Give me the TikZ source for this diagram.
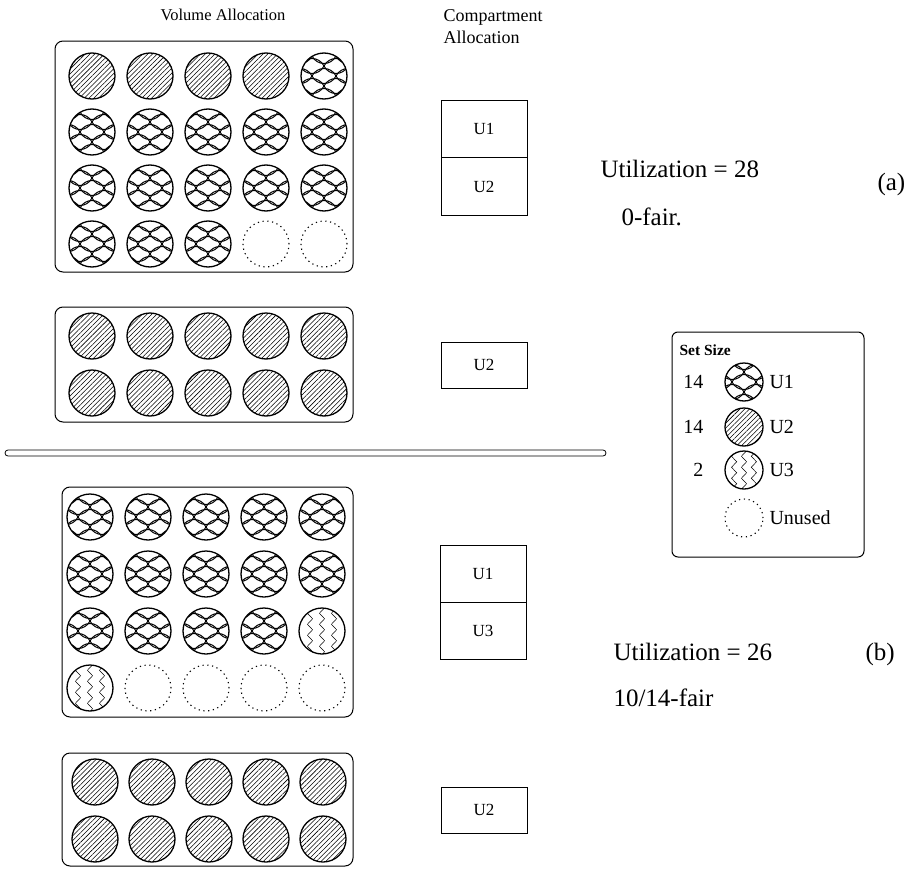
\documentclass[tikz,border=0pt]{standalone}
\usepackage{fontspec}
\setmainfont{Liberation Serif}
\usetikzlibrary{positioning,patterns.meta,decorations.pathmorphing}

\tikzset{
  disc/.style={line width=1.3pt},
  scaleline/.style={line width=1pt},
  waveline/.style={line width=0.5pt, decorate,
    decoration={zigzag, amplitude=2.6pt, segment length=11pt}},
  tray/.style={line width=1pt, rounded corners=8pt},
  cell/.style={draw, line width=1pt, minimum width=86pt, outer sep=0pt,
    font=\fontsize{17}{20}\selectfont},
}

% fish scale disc: centre x, centre y, radius
\newcommand\discF[3]{%
  \pgfmathsetmacro\dcx{#1}\pgfmathsetmacro\dcy{#2}%
  \begin{scope}
    \clip (\dcx,\dcy) circle[radius=#3pt];
    \foreach \sb in {-3,...,3}
      \foreach \sa in {-2,...,2} {
        \pgfmathsetmacro\sx{\dcx-12+\sa*24+mod(\sb+4,2)*12}
        \pgfmathsetmacro\sy{\dcy+\sb*10}
        \draw[scaleline] (\sx,\sy) .. controls (\sx+5,\sy-10) and (\sx+19,\sy-10) .. (\sx+24,\sy)
                                   .. controls (\sx+19,\sy+10) and (\sx+5,\sy+10) .. cycle;
      }
  \end{scope}
  \draw[disc] (\dcx,\dcy) circle[radius=#3pt];}
% hatched disc
\newcommand\discH[3]{%
  \draw[disc, pattern={Lines[angle=45, distance=3.4pt, line width=0.55pt]}]
    (#1,#2) circle[radius=#3pt];}
% wavy disc
\newcommand\discW[3]{%
  \pgfmathsetmacro\dcx{#1}\pgfmathsetmacro\dcy{#2}%
  \begin{scope}
    \clip (\dcx,\dcy) circle[radius=#3pt];
    \foreach \so in {-12,0,12}
      \draw[waveline] ({\dcx+\so*#3/23},{\dcy-#3-3}) -- ({\dcx+\so*#3/23},{\dcy+#3+3});
  \end{scope}
  \draw[disc] (\dcx,\dcy) circle[radius=#3pt];}
% unused disc
\newcommand\discE[3]{%
  \draw[line width=1.1pt, dash pattern=on 1.2pt off 3.6pt] (#1,#2) circle[radius=#3pt];}
\newcommand\drawdisc[4]{\csname disc#1\endcsname{#2}{#3}{#4}}

\begin{document}
\begin{tikzpicture}[x=1pt, y=-1pt]
\useasboundingbox (0,0) rectangle (906,870);

\def\big{\fontsize{25}{30}\selectfont}
\def\head{\fontsize{16.5}{21.5}\selectfont}
\def\key{\fontsize{20}{24}\selectfont}

\node[anchor=base, font=\head] (volhead) at (223,20) {Volume Allocation};
\node[anchor=base west, font=\fontsize{18}{21.5}\selectfont, align=left] (comphead) at (440,43)
  {Compartment\\Allocation};

% (a)
\draw[tray] (55,41) rectangle (353,272);
\foreach \row [count=\j from 0] in {{H,H,H,H,F},{F,F,F,F,F},{F,F,F,F,F},{F,F,F,E,E}}
  \foreach \k [count=\i from 0] in \row
    \drawdisc{\k}{92+58*\i}{76+56*\j}{23};

\draw[tray] (55,307) rectangle (353,422);
\foreach \j in {0,1}
  \foreach \i in {0,...,4}
    \drawdisc{H}{92+58*\i}{336+57*\j}{23};

\node[cell, minimum height=57.5pt] (u1a) at (484,129) {U1};
\node[cell, minimum height=57.5pt, below=0pt of u1a] (u2a) {U2};
\node[cell, minimum height=46pt] (u2b) at (484,365) {U2};

\node[anchor=base west, font=\big] (utila) at (597,177) {Utilization = 28};
\node[anchor=base west, font=\big] (faira) at (618,225) {0-fair.};
\node[anchor=base west, font=\big] (taga) at (874,190) {(a)};

\draw[line width=0.8pt, rounded corners=3pt] (5,450) rectangle (606,456);

% (b)
\draw[tray] (62,487) rectangle (353,717);
\foreach \row [count=\j from 0] in {{F,F,F,F,F},{F,F,F,F,F},{F,F,F,F,W},{W,E,E,E,E}}
  \foreach \k [count=\i from 0] in \row
    \drawdisc{\k}{90+58*\i}{517+57*\j}{23};

\draw[tray] (62,753) rectangle (353,866);
\foreach \j in {0,1}
  \foreach \i in {0,...,4}
    \drawdisc{H}{95+57*\i}{782+57*\j}{23};

\node[cell, minimum height=57pt] (u1c) at (483,574) {U1};
\node[cell, minimum height=57pt, below=0pt of u1c] (u3c) {U3};
\node[cell, minimum height=46pt] (u2d) at (484,810) {U2};

\node[anchor=base west, font=\big] (utilb) at (610,660) {Utilization = 26};
\node[anchor=base west, font=\big] (fairb) at (610,706) {10/14-fair};
\node[anchor=base west, font=\big] (tagb) at (862,660) {(b)};

% key
\draw[line width=1pt, rounded corners=6pt] (672,332) rectangle (864,557);
\node[anchor=base west, font=\bfseries\fontsize{15.5}{18}\selectfont] (setsize) at (676,355) {Set Size};
\foreach \k/\n/\u/\y in {F/14/U1/382, H/14/U2/427, W/2/U3/470, E//Unused/518} {
  \drawdisc{\k}{744}{\y}{19};
  \node[anchor=east, font=\key] (n\u) at (707,\y) {\n};
  \node[anchor=west, font=\key] (l\u) at (766,\y) {\u};
}

\end{tikzpicture}
\end{document}
